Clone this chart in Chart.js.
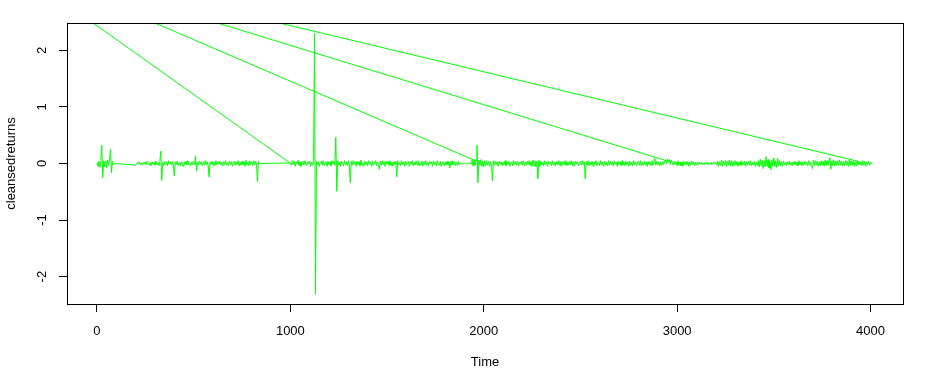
<!DOCTYPE html>
<html>
<head>
<meta charset="utf-8">
<script src="https://cdn.jsdelivr.net/npm/chart.js@4.4.0/dist/chart.umd.min.js"></script>
<style>
  body { margin: 0; background: #fff; }
  #wrap { width: 938px; height: 368px; }
</style>
</head>
<body>
<div id="wrap"><canvas id="returnsChart"></canvas></div>
<script>
// axis ticks
const xTicks = [0, 1000, 2000, 3000, 4000];
const yTicks = [-2, -1, 0, 1, 2];

// the series is read every 5 time units, in three blocks
// (the gaps between blocks show up as flat lines)
const sampleStep = 5;
const blockStarts = [0, 200, 1000];

const returnsA = [
  0.02, -0.05, 0.04, -0.07, 0.03, 0.32, -0.25, 0.05, -0.06, 0.04,
  -0.08, 0.06, -0.03, 0.05, 0.26, -0.16, 0.04, -0.02, 0.00
];

const returnsB = [
  -0.03, 0.00, 0.02, -0.01, 0.03, -0.02, 0.01, -0.03, 0.02, -0.01,
  0.03, -0.02, 0.04, -0.01, -0.03, 0.02, -0.04, 0.03, -0.01, 0.02,
  -0.03, 0.04, -0.02, 0.01, -0.04, 0.03, 0.22, -0.30, 0.02, -0.03,
  0.04, -0.02, 0.03, -0.04, 0.05, -0.01, 0.02, -0.03, 0.04, -0.02,
  -0.22, 0.03, -0.02, 0.04, -0.03, 0.01, -0.04, 0.03, 0.02, -0.05,
  0.03, -0.02, 0.04, -0.03, 0.05, -0.02, 0.01, -0.04, 0.03, -0.02,
  0.04, -0.03, 0.13, -0.13, 0.02, -0.03, 0.04, -0.01, 0.03, -0.04,
  0.02, -0.03, 0.05, -0.02, 0.03, -0.04, -0.24, 0.03, -0.02, 0.04,
  -0.03, 0.02, -0.04, 0.05, -0.02, 0.03, -0.01, 0.04, -0.03, 0.02,
  -0.04, 0.03, -0.02, 0.05, -0.03, 0.01, -0.04, 0.04, -0.02, 0.03,
  -0.05, 0.02, 0.04, -0.03, 0.03, -0.02, 0.05, -0.04, 0.02, -0.03,
  0.04, -0.02, 0.03, -0.05, 0.06, -0.03, 0.02, -0.04, 0.05, -0.02,
  0.03, -0.04, 0.05, -0.03, 0.04, -0.02, -0.32, 0.04, 0.00
];

const returnsC = [
  0.01, -0.03, 0.05, -0.02, 0.04, -0.05, 0.02, -0.01, 0.06, -0.04,
  0.03, -0.05, 0.02, 0.04, -0.03, 0.05, -0.02, -0.04, 0.03, -0.01,
  0.04, -0.05, 0.02, -0.03, 0.05, 2.30, -2.31, 0.04, -0.02, 0.03,
  -0.05, 0.02, 0.04, -0.03, 0.05, -0.04, 0.01, 0.03, -0.05, 0.04,
  -0.02, 0.03, -0.04, 0.05, -0.01, 0.04, -0.03, 0.46, -0.49, 0.05,
  -0.03, 0.02, -0.05, 0.04, 0.01, -0.04, 0.05, -0.02, 0.03, -0.04,
  0.05, -0.02, -0.34, 0.04, -0.03, 0.05, -0.01, 0.03, -0.05, 0.04,
  -0.02, 0.03, -0.04, 0.06, -0.03, 0.01, -0.05, 0.04, -0.02, 0.03,
  -0.04, 0.05, -0.01, 0.03, -0.05, 0.04, -0.03, 0.02, 0.05, -0.04,
  0.03, -0.02, -0.10, 0.04, -0.03, 0.05, -0.02, 0.03, -0.05, 0.04,
  -0.01, 0.04, -0.03, 0.05, -0.04, 0.02, -0.05, 0.03, -0.02, 0.04,
  -0.24, 0.05, -0.03, 0.02, -0.04, 0.05, -0.02, 0.03, -0.05, 0.04,
  -0.03, 0.02, 0.04, -0.05, 0.03, -0.01, 0.05, -0.04, 0.02, -0.03,
  0.04, -0.02, 0.05, -0.04, 0.01, -0.03, 0.04, -0.05, 0.03, -0.02,
  0.05, -0.03, 0.02, -0.04, 0.04, -0.01, 0.03, -0.05, 0.04, -0.02,
  0.03, -0.04, 0.05, -0.02, -0.03, 0.04, -0.05, 0.02, 0.03, -0.04,
  0.02, -0.03, 0.04, -0.02, 0.03, -0.08, 0.04, -0.03, 0.05, -0.02,
  0.03, -0.04, 0.02, -0.03, 0.04, -0.02, 0.01, 0.00, -0.01, 0.00,
  0.01, 0.00, -0.01, 0.00, 0.01, 0.00, 0.00, -0.01, 0.06, -0.05,
  0.07, -0.04, 0.05, 0.32, -0.34, 0.06, -0.03, 0.07, -0.05, 0.04,
  -0.06, 0.05, -0.04, 0.05, -0.03, 0.04, -0.05, 0.03, -0.02, -0.31,
  0.05, -0.03, 0.04, -0.02, 0.03, -0.05, 0.04, -0.01, 0.03, -0.04,
  0.02, -0.03, 0.05, -0.04, 0.03, -0.02, 0.04, -0.05, 0.01, 0.03,
  -0.04, 0.05, -0.02, 0.03, -0.03, 0.04, -0.05, 0.02, -0.01, 0.04,
  -0.03, 0.05, -0.04, 0.02, -0.03, 0.04, -0.02, 0.05, -0.04, 0.03,
  -0.05, 0.06, -0.04, 0.05, -0.06, 0.04, -0.27, 0.06, -0.05, 0.04,
  -0.03, 0.02, -0.04, 0.05, -0.02, 0.03, -0.05, 0.04, -0.01, 0.03,
  -0.04, 0.05, -0.03, 0.02, -0.04, 0.03, -0.02, 0.05, -0.03, 0.04,
  -0.05, 0.03, -0.02, 0.04, -0.03, 0.05, -0.04, 0.02, -0.03, 0.04,
  -0.02, 0.05, -0.04, 0.03, -0.05, 0.04, -0.01, 0.03, -0.04, 0.02,
  0.04, -0.03, 0.05, -0.02, 0.03, -0.27, 0.04, -0.03, 0.05, -0.04,
  0.02, -0.03, 0.04, -0.05, 0.03, -0.02, 0.05, -0.04, 0.01, 0.03,
  -0.04, 0.05, -0.02, 0.03, -0.05, 0.04, -0.03, 0.02, -0.04, 0.05,
  -0.03, 0.04, -0.02, 0.03, -0.04, 0.05, -0.01, 0.03, -0.05, 0.04,
  -0.02, 0.03, -0.04, 0.05, -0.03, 0.02, -0.04, 0.04, -0.02, 0.03,
  -0.05, 0.04, -0.03, 0.02, -0.04, 0.05, -0.02, 0.03, -0.04, 0.02,
  0.04, -0.03, 0.05, -0.04, 0.02, -0.03, 0.04, -0.02, 0.03, -0.05,
  0.04, -0.02, 0.03, -0.04, 0.05, -0.03, 0.02, 0.09, -0.03, 0.04,
  -0.02, 0.03, -0.04, 0.02, -0.03, 0.04, -0.02, 0.03, 0.06, -0.01,
  0.08, 0.02, 0.07, -0.02, 0.06, 0.01, -0.03, 0.04, -0.02, 0.03,
  -0.04, 0.05, -0.03, 0.02, -0.04, 0.03, -0.05, 0.04, -0.02, 0.03,
  -0.03, 0.04, -0.05, 0.02, -0.03, 0.04, -0.02, 0.03, -0.04, 0.02,
  -0.03, 0.03, -0.02, 0.02, -0.01, 0.02, -0.02, 0.01, -0.02, 0.02,
  -0.01, 0.02, -0.02, 0.01, -0.01, 0.02, -0.02, 0.01, 0.02, -0.01,
  0.02, -0.03, 0.04, -0.05, 0.03, -0.04, 0.06, -0.05, 0.04, -0.03,
  0.05, -0.06, 0.04, -0.03, 0.06, -0.04, 0.05, -0.05, 0.03, -0.04,
  0.05, -0.03, 0.04, -0.05, 0.02, -0.03, 0.05, -0.04, 0.03, -0.02,
  0.04, -0.05, 0.03, -0.02, 0.04, -0.03, 0.05, -0.04, 0.02, -0.03,
  0.04, -0.05, 0.03, -0.04, 0.05, -0.06, 0.08, -0.04, 0.06, -0.09,
  0.05, -0.06, 0.12, -0.05, 0.07, -0.08, 0.04, -0.11, 0.06, -0.05,
  0.10, -0.06, 0.05, -0.07, 0.09, -0.04, 0.05, -0.04, 0.03, -0.05,
  0.04, -0.03, 0.02, -0.04, 0.03, -0.02, 0.04, -0.03, 0.02, -0.04,
  0.03, -0.02, 0.04, -0.03, 0.02, -0.04, 0.05, -0.02, 0.03, -0.04,
  0.02, -0.03, 0.04, -0.02, 0.03, -0.04, 0.05, -0.03, 0.02, -0.04,
  -0.09, 0.06, -0.04, 0.05, -0.03, 0.04, -0.05, 0.03, -0.04, 0.05,
  -0.03, 0.04, -0.05, 0.06, -0.04, 0.05, -0.03, 0.04, 0.10, -0.10,
  0.05, -0.04, 0.06, -0.05, 0.04, -0.03, 0.05, -0.04, 0.06, -0.03,
  0.04, -0.05, 0.03, -0.04, 0.05, -0.03, 0.04, -0.05, 0.06, -0.04,
  0.05, -0.03, 0.04, -0.05, 0.03, -0.04, 0.05, -0.03, 0.04, -0.02,
  0.03, -0.04, 0.05, -0.03, 0.04, -0.05, 0.03, -0.02, 0.04, -0.03,
  0.02, -0.01, 0.01
];

// four long lines that come in from one point above and left of the plot
const jumpOriginTime = -507;
const jumpOriginValue = 3.67;
const jumpEndTimes = [998, 1963, 2963, 3935];
const jumpEndValues = [0.01, 0.04, 0.03, 0.04];

const lineColor = '#00ff00';

// build points
const blocks = [returnsA, returnsB, returnsC];
const seriesPoints = [];
blocks.forEach((vals, b) => {
    vals.forEach((v, i) => {
        seriesPoints.push({ x: blockStarts[b] + i * sampleStep, y: v });
    });
});

const datasets = [{
    data: seriesPoints,
    borderColor: lineColor,
    borderWidth: 1,
    pointRadius: 0,
    tension: 0
}];

jumpEndTimes.forEach((t, i) => {
    datasets.push({
        data: [
            { x: jumpOriginTime, y: jumpOriginValue },
            { x: t, y: jumpEndValues[i] }
        ],
        borderColor: lineColor,
        borderWidth: 1,
        pointRadius: 0,
        tension: 0
    });
});

// R style box round the plot region
const boxPlugin = {
    id: 'plotBox',
    afterDraw(chart) {
        const a = chart.chartArea;
        const ctx = chart.ctx;
        ctx.save();
        ctx.strokeStyle = '#000';
        ctx.lineWidth = 1;
        ctx.strokeRect(Math.round(a.left) + 0.5, Math.round(a.top) + 0.5,
            Math.round(a.right - a.left), Math.round(a.bottom - a.top));
        ctx.restore();
    }
};

Chart.defaults.font.family = "'Liberation Sans', Arial, sans-serif";
Chart.defaults.font.size = 13;
Chart.defaults.color = '#000';

const ctx = document.getElementById('returnsChart').getContext('2d');
new Chart(ctx, {
    type: 'line',
    data: { datasets: datasets },
    options: {
        responsive: true,
        maintainAspectRatio: false,
        animation: false,
        layout: { padding: { left: 0, right: 35, top: 23, bottom: 0 } },
        plugins: {
            legend: { display: false },
            tooltip: { enabled: false }
        },
        scales: {
            x: {
                type: 'linear',
                min: -155,
                max: 4168,
                afterBuildTicks: s => { s.ticks = xTicks.map(v => ({ value: v })); },
                afterFit: s => { s.height = 64; },
                grid: { drawOnChartArea: false, tickLength: 8, color: '#000' },
                border: { display: false },
                ticks: {
                    padding: 12,
                    maxRotation: 0,
                    autoSkip: false,
                    callback: v => String(v)
                },
                title: {
                    display: true,
                    text: 'Time',
                    padding: { top: 0, bottom: -2 }
                }
            },
            y: {
                type: 'linear',
                min: -2.484,
                max: 2.484,
                afterBuildTicks: s => { s.ticks = yTicks.map(v => ({ value: v })); },
                afterFit: s => { s.width = 67; },
                grid: { drawOnChartArea: false, tickLength: 8, color: '#000' },
                border: { display: false },
                ticks: {
                    minRotation: 90,
                    maxRotation: 90,
                    crossAlign: 'center',
                    padding: 11,
                    callback: v => String(v)
                },
                title: {
                    display: true,
                    text: 'cleansedreturns',
                    padding: { top: 4, bottom: 4 }
                }
            }
        }
    },
    plugins: [boxPlugin]
});
</script>
</body>
</html>
